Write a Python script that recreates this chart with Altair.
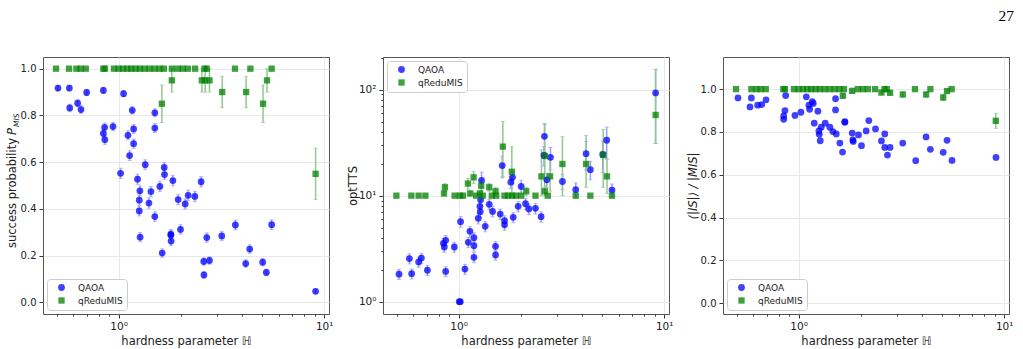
import altair as alt
import pandas as pd

# ---------------- Panel 1: success probability ----------------
p1_qaoa_h = [0.507, 0.576, 0.578, 0.632, 0.656, 0.699, 0.843, 0.843, 0.855, 0.857,
             0.939, 1.022, 1.057, 1.11, 1.131, 1.165, 1.183, 1.183, 1.236, 1.26,
             1.26, 1.269, 1.272, 1.347, 1.404, 1.436, 1.5, 1.5, 1.5, 1.587,
             1.629, 1.666, 1.672, 1.795, 1.795, 1.80, 1.836, 1.948, 2.0, 2.107,
             2.178, 2.348, 2.519, 2.595, 2.60, 2.684, 2.766, 3.174, 3.698, 4.15,
             4.34, 5.02, 5.23, 5.55, 9.08]
p1_qaoa_y = [0.917, 0.917, 0.832, 0.852, 0.825, 0.898, 0.907, 0.723, 0.749, 0.696,
             0.752, 0.552, 0.893, 0.715, 0.628, 0.822, 0.742, 0.679, 0.527, 0.437,
             0.391, 0.477, 0.279, 0.589, 0.425, 0.474, 0.811, 0.746, 0.367, 0.496,
             0.211, 0.577, 0.547, 0.292, 0.287, 0.262, 0.521, 0.44, 0.312, 0.421,
             0.458, 0.453, 0.516, 0.175, 0.117, 0.277, 0.179, 0.284, 0.331, 0.166,
             0.228, 0.172, 0.128, 0.332, 0.047]
p1_qaoa_err = [0.012, 0.012, 0.016, 0.015, 0.016, 0.013, 0.013, 0.019, 0.018, 0.020,
               0.018, 0.022, 0.013, 0.019, 0.021, 0.016, 0.019, 0.020, 0.022, 0.022,
               0.021, 0.022, 0.020, 0.021, 0.022, 0.022, 0.017, 0.019, 0.021, 0.022,
               0.018, 0.022, 0.022, 0.020, 0.020, 0.019, 0.022, 0.022, 0.020, 0.022,
               0.022, 0.022, 0.022, 0.016, 0.014, 0.020, 0.016, 0.020, 0.021, 0.016,
               0.018, 0.016, 0.014, 0.021, 0.009]
p1_redu_h = [0.496, 0.574, 0.623, 0.654, 0.692, 0.843, 0.858, 0.949, 1.0, 1.05,
             1.102, 1.152, 1.209, 1.269, 1.337, 1.414, 1.495, 1.581, 1.659, 1.815,
             1.941, 2.053, 2.172, 2.356, 2.615, 2.684, 3.68, 4.373, 5.55,
             1.623, 1.815, 2.54, 2.635, 2.766, 3.19, 4.17, 5.04, 5.27, 9.08]
p1_redu_y = [1.0, 1.0, 1.0, 1.0, 1.0, 1.0, 1.0, 1.0, 1.0, 1.0,
             1.0, 1.0, 1.0, 1.0, 1.0, 1.0, 1.0, 1.0, 1.0, 1.0,
             1.0, 1.0, 1.0, 1.0, 1.0, 1.0, 1.0, 1.0, 1.0,
             0.85, 0.95, 0.95, 0.95, 0.95, 0.9, 0.9, 0.85, 0.95, 0.55]
p1_redu_err = [0.0, 0.0, 0.0, 0.0, 0.0, 0.0, 0.0, 0.0, 0.0, 0.0,
               0.0, 0.0, 0.0, 0.0, 0.0, 0.0, 0.0, 0.0, 0.0, 0.0,
               0.0, 0.0, 0.0, 0.0, 0.0, 0.0, 0.0, 0.0, 0.0,
               0.08, 0.05, 0.05, 0.05, 0.05, 0.067, 0.067, 0.08, 0.05, 0.11]

# ---------------- Panel 2: optTTS ----------------
p2_qaoa_h = [0.513, 0.576, 0.591, 0.639, 0.659, 0.705, 0.843, 0.852, 0.865, 0.865,
             0.953, 1.007, 1.019, 1.022, 1.073, 1.114, 1.135, 1.187, 1.187, 1.187,
             1.246, 1.269, 1.274, 1.279, 1.293, 1.347, 1.409, 1.462, 1.512, 1.512,
             1.593, 1.629, 1.672, 1.672, 1.795, 1.829, 1.843, 1.948, 2.015, 2.115,
             2.195, 2.365, 2.519, 2.60, 2.615, 2.684, 2.797, 3.198, 3.712, 4.168,
             4.373, 5.02, 5.25, 5.572, 9.08]
p2_qaoa_y = [1.82, 2.55, 1.84, 2.37, 2.58, 1.98, 3.55, 3.28, 3.79, 1.93,
             3.28, 1.0, 1.0, 5.69, 2.03, 3.63, 4.61, 4.02, 3.37, 2.62,
             6.11, 7.93, 7.06, 9.17, 13.9, 5.14, 8.28, 7.11, 3.33, 2.76,
             6.71, 19.2, 5.81, 5.32, 13.4, 14.9, 6.25, 7.93, 12.2, 8.41,
             7.49, 7.59, 6.34, 24.0, 36.3, 14.1, 23.0, 13.6, 11.4, 24.9,
             17.6, 24.5, 33.3, 11.3, 93.0]
p2_qaoa_err = [0.2, 0.28, 0.2, 0.26, 0.28, 0.22, 0.4, 0.36, 0.42, 0.21,
               0.36, 0.0, 0.0, 0.65, 0.22, 0.4, 0.52, 0.45, 0.37, 0.29,
               0.7, 0.9, 0.8, 1.1, 2.8, 0.58, 0.95, 0.8, 0.37, 0.3,
               0.77, 4.5, 0.66, 0.6, 1.7, 2.0, 0.7, 0.9, 1.8, 1.0,
               0.86, 0.88, 0.72, 5.0, 11.0, 2.2, 5.5, 2.2, 1.8, 7.5,
               3.5, 8.0, 11.0, 1.6, 62.0]
p2_redu_h = [0.498, 0.589, 0.639, 0.689, 0.849, 0.858, 0.956, 1.015, 1.05, 1.11,
             1.139, 1.183, 1.218, 1.269, 1.288, 1.31, 1.409, 1.45, 1.512, 1.524,
             1.641, 1.672, 1.74, 1.815, 1.822, 1.9, 2.015, 2.131, 2.365, 2.528,
             2.624, 2.624, 2.713, 2.785, 3.198, 3.712, 4.168, 4.373, 5.05, 5.27,
             5.572, 9.08]
p2_redu_y = [10.0, 10.0, 10.0, 10.0, 10.5, 12.0, 10.0, 10.0, 10.0, 13.0,
             10.5, 14.9, 10.0, 10.5, 12.4, 10.0, 12.0, 10.0, 11.0, 10.0,
             29.0, 10.0, 10.0, 16.8, 10.0, 10.0, 10.0, 11.0, 10.0, 15.2,
             23.7, 11.0, 10.0, 15.2, 19.9, 10.0, 19.9, 10.0, 24.2, 15.2,
             10.0, 57.7]
p2_redu_lo = [10.0, 10.0, 10.0, 10.0, 10.0, 11.0, 10.0, 10.0, 10.0, 11.5,
              10.0, 13.0, 10.0, 10.0, 11.0, 10.0, 11.0, 10.0, 10.0, 10.0,
              15.0, 10.0, 10.0, 10.0, 10.0, 10.0, 10.0, 10.0, 10.0, 10.0,
              12.0, 10.0, 10.0, 11.0, 10.0, 10.0, 12.0, 10.0, 12.0, 10.5,
              10.0, 31.0]
p2_redu_hi = [10.0, 10.0, 10.0, 10.0, 11.0, 13.0, 10.0, 10.0, 10.0, 14.5,
              11.0, 17.0, 10.0, 11.0, 14.0, 10.0, 13.0, 10.0, 12.0, 10.0,
              50.0, 10.0, 10.0, 29.0, 10.0, 10.0, 10.0, 12.0, 10.0, 27.0,
              48.0, 12.0, 10.0, 22.0, 36.0, 10.0, 37.0, 10.0, 42.0, 22.0,
              10.0, 155.0]

# ---------------- Panel 3: <|IS|>/|MIS| ----------------
p3_qaoa_h = [0.507, 0.580, 0.589, 0.632, 0.661, 0.694, 0.846, 0.846, 0.858, 0.865,
             0.960, 1.026, 1.090, 1.122, 1.131, 1.165, 1.178, 1.191, 1.241, 1.255,
             1.260, 1.274, 1.288, 1.347, 1.419, 1.467, 1.512, 1.512, 1.524, 1.587,
             1.635, 1.678, 1.678, 1.822, 1.836, 1.843, 1.955, 2.022, 2.131, 2.195,
             2.365, 2.528, 2.624, 2.624, 2.704, 2.785, 3.210, 3.712, 4.168, 4.373,
             5.05, 5.27, 5.572, 9.12]
p3_qaoa_y = [0.959, 0.917, 0.959, 0.925, 0.928, 0.95, 0.859, 0.875, 0.9, 0.97,
             0.877, 0.892, 0.964, 0.925, 0.906, 0.941, 0.933, 0.841, 0.897, 0.805,
             0.789, 0.759, 0.822, 0.841, 0.822, 0.802, 0.955, 0.903, 0.791, 0.748,
             0.706, 0.848, 0.845, 0.795, 0.763, 0.756, 0.786, 0.736, 0.805, 0.853,
             0.814, 0.758, 0.791, 0.728, 0.692, 0.728, 0.748, 0.666, 0.777, 0.719,
             0.705, 0.761, 0.667, 0.681]
p3_redu_h = [0.496, 0.589, 0.623, 0.654, 0.692, 0.843, 0.858, 0.949, 1.0, 1.05,
             1.102, 1.152, 1.209, 1.269, 1.337, 1.414, 1.495, 1.581, 1.659, 1.941,
             2.053, 2.172, 2.356, 2.615, 2.684, 3.68, 4.373, 5.55,
             1.641, 1.822, 2.528, 2.785, 3.21, 4.168, 5.05, 5.27, 9.1]
p3_redu_y = [1.0, 1.0, 1.0, 1.0, 1.0, 1.0, 1.0, 1.0, 1.0, 1.0,
             1.0, 1.0, 1.0, 1.0, 1.0, 1.0, 1.0, 1.0, 1.0, 1.0,
             1.0, 1.0, 1.0, 1.0, 1.0, 1.0, 1.0, 1.0,
             0.969, 0.992, 0.984, 0.983, 0.975, 0.975, 0.961, 0.991, 0.852]
p3_redu_err = [0.0, 0.0, 0.0, 0.0, 0.0, 0.0, 0.0, 0.0, 0.0, 0.0,
               0.0, 0.0, 0.0, 0.0, 0.0, 0.0, 0.0, 0.0, 0.0, 0.0,
               0.0, 0.0, 0.0, 0.0, 0.0, 0.0, 0.0, 0.0,
               0.01, 0.008, 0.01, 0.01, 0.012, 0.012, 0.015, 0.008, 0.035]

METHODS = ["QAOA", "qReduMIS"]
PAGE_NUMBER = "27"
X_TITLE = "hardness parameter ℍ"

# ---------------- styling ----------------
W, H = 286, 257
XDOM = [0.4287, 10.55]
FONT = "DejaVu Sans"
BLUE, GREEN = "blue", "green"
BLUE_ERR, GREEN_ERR = "#9d9df7", "#93c793"

x_minor = [0.5, 0.6, 0.7, 0.8, 0.9, 1, 2, 3, 4, 5, 6, 7, 8, 9, 10]
y_log_ticks = [1, 2, 3, 4, 5, 6, 7, 8, 9, 10, 20, 30, 40, 50, 60, 70, 80, 90, 100, 200]
MAJOR = "datum.value == 1 || datum.value == 10 || datum.value == 100"


def x_enc():
    return alt.X(
        "h:Q",
        scale=alt.Scale(type="log", domain=XDOM),
        axis=alt.Axis(
            values=x_minor,
            labelExpr="datum.value == 1 ? '10⁰' : (datum.value == 10 ? '10¹' : '')",
            tickSize={"condition": {"test": MAJOR, "value": 4}, "value": 2},
            gridOpacity={"condition": {"test": MAJOR, "value": 1}, "value": 0},
            title=X_TITLE,
            titlePadding=4,
            labelPadding=3,
            labelFontSize=10.5,
        ),
    )


def make_df(h, y, lo, hi, method):
    return pd.DataFrame({"h": h, "y": y, "lo": lo, "hi": hi, "method": method})


def panel(df_q, df_r, yscale, yaxis, legend_y, extra_layers):
    ysc = yscale
    def errs(df, col):
        d = df[df["hi"] > df["lo"]]
        rule = alt.Chart(d).mark_rule(strokeWidth=1.5, color=col).encode(
            x=x_enc(), y=alt.Y("lo:Q", scale=ysc, axis=yaxis), y2="hi:Q")
        cap_lo = alt.Chart(d).mark_tick(orient="horizontal", size=4, thickness=1, color=col).encode(
            x=x_enc(), y=alt.Y("lo:Q", scale=ysc, axis=yaxis))
        cap_hi = alt.Chart(d).mark_tick(orient="horizontal", size=4, thickness=1, color=col).encode(
            x=x_enc(), y=alt.Y("hi:Q", scale=ysc, axis=yaxis))
        return [rule, cap_lo, cap_hi]

    legend = alt.Legend(
        orient="none", legendX=4, legendY=legend_y, title=None,
        fillColor="white", strokeColor="#cccccc", cornerRadius=3, padding=4,
        labelFont=FONT, labelFontSize=9, labelColor="#222", symbolSize=40,
        rowPadding=3, symbolOffset=6, labelOffset=12, symbolStrokeWidth=0,
    )
    pts = alt.Chart(pd.concat([df_q, df_r])).mark_point(filled=True, opacity=0.75).encode(
        x=x_enc(),
        y=alt.Y("y:Q", scale=ysc, axis=yaxis),
        color=alt.Color("method:N", scale=alt.Scale(domain=METHODS, range=[BLUE, GREEN]), legend=legend),
        shape=alt.Shape("method:N", scale=alt.Scale(domain=METHODS, range=["circle", "square"]), legend=legend),
        size=alt.Size("method:N", scale=alt.Scale(domain=METHODS, range=[46, 40]), legend=None),
    )
    layers = []
    if df_q is not None:
        layers += errs(df_q, BLUE_ERR)
    layers += errs(df_r, GREEN_ERR)
    layers.append(pts)
    layers += extra_layers
    return alt.layer(*layers).properties(width=W, height=H)


lin_ticks = [0.0, 0.2, 0.4, 0.6, 0.8, 1.0]

# Panel 1
df1q = make_df(p1_qaoa_h, p1_qaoa_y,
               [a - b for a, b in zip(p1_qaoa_y, p1_qaoa_err)],
               [a + b for a, b in zip(p1_qaoa_y, p1_qaoa_err)], "QAOA")
df1r = make_df(p1_redu_h, p1_redu_y,
               [a - b for a, b in zip(p1_redu_y, p1_redu_err)],
               [a + b for a, b in zip(p1_redu_y, p1_redu_err)], "qReduMIS")
ax1 = alt.Axis(values=lin_ticks, format=".1f", title=None, tickSize=4, labelPadding=3)
title_txt = [
    alt.Chart(pd.DataFrame({"t": ["success probability"]})).mark_text(
        angle=270, align="right", baseline="middle", fontSize=11.5, font=FONT, color="#222"
    ).encode(x=alt.value(-30), y=alt.value(81), text="t:N"),
    alt.Chart(pd.DataFrame({"t": ["P"]})).mark_text(
        angle=270, align="left", baseline="middle", fontSize=11.5, font=FONT, fontStyle="italic", color="#222"
    ).encode(x=alt.value(-30), y=alt.value(78), text="t:N"),
    alt.Chart(pd.DataFrame({"t": ["MIS"]})).mark_text(
        angle=270, align="left", baseline="middle", fontSize=7.5, font=FONT, fontStyle="italic", color="#222"
    ).encode(x=alt.value(-26.5), y=alt.value(70), text="t:N"),
]
p1 = panel(df1q, df1r, alt.Scale(domain=[-0.05, 1.05], nice=False, zero=False), ax1, 222, title_txt)

# Panel 2
df2q = make_df(p2_qaoa_h, p2_qaoa_y,
               [a - b for a, b in zip(p2_qaoa_y, p2_qaoa_err)],
               [a + b for a, b in zip(p2_qaoa_y, p2_qaoa_err)], "QAOA")
df2r = make_df(p2_redu_h, p2_redu_y, p2_redu_lo, p2_redu_hi, "qReduMIS")
ax2 = alt.Axis(
    values=y_log_ticks,
    labelExpr="datum.value == 1 ? '10⁰' : (datum.value == 10 ? '10¹' : (datum.value == 100 ? '10²' : ''))",
    tickSize={"condition": {"test": MAJOR, "value": 4}, "value": 2},
    gridOpacity={"condition": {"test": MAJOR, "value": 1}, "value": 0},
    title="optTTS", titleX=-30, titleAngle=270, titleAlign="center", titleBaseline="middle",
    labelPadding=3, labelFontSize=10.5,
)
p2 = panel(df2q, df2r, alt.Scale(type="log", domain=[0.766, 203], nice=False), ax2, 4, [])

# Panel 3
df3q = make_df(p3_qaoa_h, p3_qaoa_y, p3_qaoa_y, p3_qaoa_y, "QAOA")
df3r = make_df(p3_redu_h, p3_redu_y,
               [a - b for a, b in zip(p3_redu_y, p3_redu_err)],
               [a + b for a, b in zip(p3_redu_y, p3_redu_err)], "qReduMIS")
ax3 = alt.Axis(values=lin_ticks, format=".1f", tickSize=4, labelPadding=3,
               title="⟨|IS|⟩ / |MIS|", titleFontStyle="italic", titleX=-30,
               titleAngle=270, titleAlign="center", titleBaseline="middle")
page = alt.Chart(pd.DataFrame({"t": [PAGE_NUMBER]})).mark_text(
    align="right", baseline="alphabetic", fontSize=15.5, font="Liberation Serif", color="black"
).encode(x=alt.value(291), y=alt.value(-36), text="t:N")
p3 = panel(df3q, df3r, alt.Scale(domain=[-0.05, 1.15], nice=False, zero=False), ax3, 222, [page])

chart = alt.hconcat(p1, p2, p3, spacing=54, bounds="flush").resolve_scale(
    x="independent", y="independent", color="independent", shape="independent", size="independent"
).resolve_legend(color="independent", shape="independent").properties(
    padding={"left": 6, "top": 8, "right": 2, "bottom": 2}, background="white"
).configure_view(stroke="#555555", strokeWidth=1).configure_axis(
    labelFont=FONT, titleFont=FONT, labelFontSize=10, titleFontSize=11.5,
    labelColor="#222", titleColor="#222", tickColor="#333", gridColor="#e8e8e8",
    domain=False, titleFontWeight="normal",
)

chart.save("out.html", embed_options={"renderer": "svg", "actions": False})
